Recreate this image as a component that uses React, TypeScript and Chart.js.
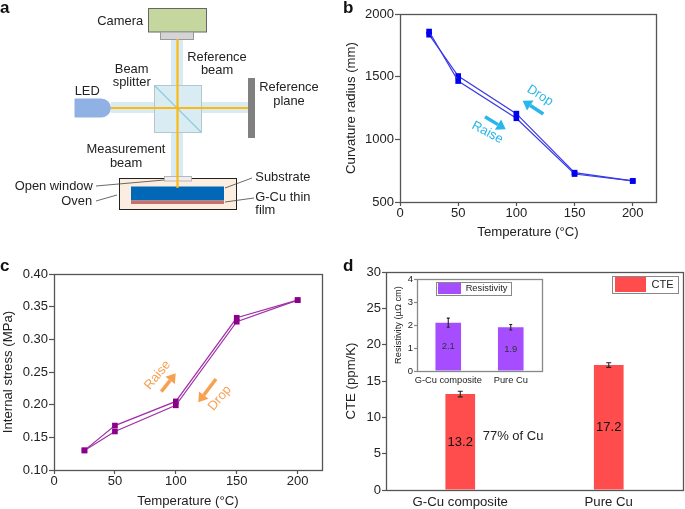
import React, { useEffect, useRef } from "react";
import { Chart, registerables } from "chart.js";

Chart.register(...registerables);

const FONT = '"Liberation Sans", Arial, sans-serif';
const TEXT = "#222222";
const AXIS = "#555555";

const temperatures = [25, 50, 100, 150, 200];
const curvatureRaise = [1860, 1465, 1168, 723, 668];
const curvatureDrop = [1835, 1505, 1205, 734, 668];
const stressRaise = [0.13, 0.159, 0.199, 0.327, 0.36];
const stressDrop = [0.13, 0.168, 0.205, 0.333, 0.36];

const materials = ["G-Cu composite", "Pure Cu"];
const cteValues = [13.2, 17.2];
const cteErrors = [0.38, 0.32];
const resistivityValues = [2.1, 1.9];
const resistivityErrors = [0.2, 0.12];

const framePlugin = {
  id: "frame",
  afterDraw(chart: any, _a: any, o: any) {
    const { left, top, right, bottom } = chart.chartArea;
    const ctx = chart.ctx;
    ctx.save();
    ctx.strokeStyle = o.color || AXIS;
    ctx.lineWidth = 1.3;
    ctx.strokeRect(Math.round(left) + 0.5, Math.round(top) + 0.5, Math.round(right - left), Math.round(bottom - top));
    ctx.restore();
  },
};

const barExtras = {
  id: "barExtras",
  afterDatasetsDraw(chart: any, _a: any, o: any) {
    const ctx = chart.ctx;
    const meta = chart.getDatasetMeta(0);
    const y = chart.scales.y;
    const values = chart.data.datasets[0].data;
    ctx.save();
    meta.data.forEach((bar: any, i: number) => {
      const v = values[i];
      const e = o.errors[i];
      ctx.strokeStyle = "#222";
      ctx.lineWidth = 1.1;
      ctx.beginPath();
      ctx.moveTo(bar.x, y.getPixelForValue(v - e));
      ctx.lineTo(bar.x, y.getPixelForValue(v + e));
      [v - e, v + e].forEach((w) => {
        ctx.moveTo(bar.x - o.cap, y.getPixelForValue(w));
        ctx.lineTo(bar.x + o.cap, y.getPixelForValue(w));
      });
      ctx.stroke();
      ctx.fillStyle = o.labelColor;
      ctx.font = `${o.labelSize}px ${FONT}`;
      ctx.textAlign = "center";
      ctx.textBaseline = "middle";
      ctx.fillText(v.toFixed(1), bar.x, y.getPixelForValue(v / 2));
    });
    ctx.restore();
  },
};

const legendPlacer = {
  id: "legendPlacer",
  afterLayout(chart: any, _a: any, o: any) {
    if (chart.legend) {
      chart.legend.left = o.left;
      chart.legend.top = o.top;
    }
  },
  beforeDatasetsDraw(chart: any, _a: any, o: any) {
    const ctx = chart.ctx;
    ctx.save();
    ctx.strokeStyle = "#888";
    ctx.lineWidth = 1;
    ctx.strokeRect(o.left - o.padL + 0.5, o.top - 1 + 0.5, o.frameW, o.frameH);
    ctx.restore();
  },
};

function axisCommon(size: number, tick: number, pad: number, grid: string) {
  return {
    grid: { display: true, drawOnChartArea: false, drawTicks: tick > 0, tickLength: tick, color: grid, tickWidth: 1.2 },
    border: { display: false },
    ticks: { color: TEXT, font: { family: FONT, size }, padding: pad, maxRotation: 0, minRotation: 0, autoSkip: false },
  };
}

function lineConfig(o: any) {
  const ds = (data: number[]) => ({
    data: data,
    borderColor: o.line,
    backgroundColor: o.marker,
    pointBackgroundColor: o.marker,
    pointBorderWidth: 0,
    pointStyle: "rect",
    pointRadius: 4,
    borderWidth: 1.2,
    tension: 0,
  });
  return {
    type: "line",
    data: { labels: temperatures, datasets: [ds(o.a), ds(o.b)] },
    plugins: [framePlugin],
    options: {
      animation: false,
      responsive: false,
      layout: { padding: o.padding },
      plugins: { legend: { display: false }, tooltip: { enabled: false }, frame: { color: AXIS } },
      scales: {
        x: {
          type: "linear",
          min: 0,
          max: 220,
          ...axisCommon(13, 4, 0, AXIS),
          ticks: { ...axisCommon(13, 4, 0, AXIS).ticks, stepSize: 50, includeBounds: false },
          title: {
            display: true,
            text: "Temperature (°C)",
            color: TEXT,
            font: { family: FONT, size: 13.2 },
            padding: { top: 0, bottom: o.xTitlePad },
          },
          afterFit: (s: any) => { s.height = o.xH; },
        },
        y: {
          min: o.min,
          max: o.max,
          ...axisCommon(13, 5, 1, AXIS),
          ticks: { ...axisCommon(13, 5, 1, AXIS).ticks, stepSize: o.step, callback: o.fmt },
          title: {
            display: true,
            text: o.yTitle,
            color: TEXT,
            font: { family: FONT, size: 13.2 },
            padding: { top: o.yTitlePad, bottom: 0 },
          },
          afterFit: (s: any) => { s.width = o.yW; },
        },
      },
    },
  };
}

function barConfig(o: any) {
  return {
    type: "bar",
    data: {
      labels: materials,
      datasets: [{
        label: o.label,
        data: o.values,
        backgroundColor: o.color,
        borderWidth: 0,
        barPercentage: o.barPct,
        categoryPercentage: 1,
      }],
    },
    plugins: [framePlugin, barExtras, legendPlacer],
    options: {
      animation: false,
      responsive: false,
      layout: { padding: o.padding },
      plugins: {
        tooltip: { enabled: false },
        frame: { color: o.frame },
        barExtras: { errors: o.errors, cap: o.cap, labelColor: o.labelColor, labelSize: o.labelSize },
        legendPlacer: o.legendBox,
        legend: {
          position: "chartArea",
          align: "start",
          labels: {
            boxWidth: o.boxW,
            boxHeight: o.boxH,
            padding: 0,
            color: TEXT,
            font: { family: FONT, size: o.legendSize },
          },
        },
      },
      scales: {
        x: {
          ...axisCommon(o.xSize, 0, o.xPad, o.frame),
          afterFit: (s: any) => { s.height = o.xH; },
        },
        y: {
          min: 0,
          max: o.max,
          ...axisCommon(o.ySize, o.yTick, 1, o.frame),
          ticks: { ...axisCommon(o.ySize, o.yTick, 1, o.frame).ticks, stepSize: o.step },
          title: {
            display: true,
            text: o.yTitle,
            color: TEXT,
            font: { family: FONT, size: o.titleSize },
            padding: { top: o.yTitlePad, bottom: 0 },
          },
          afterFit: (s: any) => { s.width = o.yW; },
        },
      },
    },
  };
}

function ChartBox({ left, top, width, height, config }: any) {
  const ref = useRef<HTMLCanvasElement | null>(null);
  useEffect(() => {
    const chart = new Chart(ref.current as any, config);
    return () => chart.destroy();
  }, []);
  return (
    <canvas
      ref={ref}
      width={width}
      height={height}
      style={{ position: "absolute", left, top, width, height, display: "block" }}
    />
  );
}

const curvatureChart = lineConfig({
  a: curvatureRaise, b: curvatureDrop, line: "#3a3ae8", marker: "#0000ee",
  min: 500, max: 2000, step: 500, yTitle: "Curvature radius (mm)",
  padding: { left: 0, top: 14, right: 29, bottom: 0 }, yW: 60, xH: 38, yTitlePad: 3, xTitlePad: 0,
});

const stressChart = lineConfig({
  a: stressRaise, b: stressDrop, line: "#a030a8", marker: "#8b008b",
  min: 0.1, max: 0.4, step: 0.05, yTitle: "Internal stress (MPa)", fmt: (v: number) => v.toFixed(2),
  padding: { left: 0, top: 24, right: 18, bottom: 0 }, yW: 54, xH: 39, yTitlePad: 0, xTitlePad: 0,
});

const cteChart = barConfig({
  label: "CTE", values: cteValues, errors: cteErrors, color: "#ff4d4d", barPct: 0.2,
  padding: { left: 0, top: 22, right: 2, bottom: 0 }, frame: AXIS, cap: 2.5,
  labelColor: "#111", labelSize: 13, boxW: 31, boxH: 15, legendSize: 11,
  legendBox: { left: 275, top: 27, padL: 3, frameW: 66, frameH: 17 },
  xSize: 13.2, xPad: 4, xH: 19, ySize: 13, yTick: 4, max: 30, step: 5,
  yTitle: "CTE (ppm/K)", titleSize: 13.2, yTitlePad: 3, yW: 46,
});

const resistivityChart = barConfig({
  label: "Resistivity", values: resistivityValues, errors: resistivityErrors, color: "#a64dff", barPct: 0.41,
  padding: { left: 0, top: 9, right: 8, bottom: 0 }, frame: "#888888", cap: 1.5,
  labelColor: "#333", labelSize: 9.5, boxW: 23, boxH: 11, legendSize: 9.3,
  legendBox: { left: 48, top: 13, padL: 2, frameW: 75, frameH: 13 },
  xSize: 9.3, xPad: 4, xH: 19, ySize: 9.5, yTick: 3, max: 4, step: 1,
  yTitle: "Resistivity (µΩ cm)", titleSize: 9.3, yTitlePad: 3, yW: 27,
});

function Arrow({ x1, y1, x2, y2, color }: any) {
  const dx = x2 - x1;
  const dy = y2 - y1;
  const len = Math.hypot(dx, dy);
  const ux = dx / len;
  const uy = dy / len;
  const head = 9;
  const half = 6;
  const bx = x2 - ux * head;
  const by = y2 - uy * head;
  const pts = `${x2},${y2} ${bx - uy * half},${by + ux * half} ${bx + uy * half},${by - ux * half}`;
  return (
    <g>
      <line x1={x1} y1={y1} x2={bx} y2={by} stroke={color} strokeWidth={3.5} />
      <polygon points={pts} fill={color} />
    </g>
  );
}

function Note({ x, y, rot, color, children }: any) {
  return (
    <text x={x} y={y} fill={color} fontSize={13} textAnchor="middle" dominantBaseline="middle" transform={`rotate(${rot} ${x} ${y})`}>
      {children}
    </text>
  );
}

function Schematic() {
  const label = { fill: TEXT, fontSize: 12.9 };
  return (
    <g>
      <rect x={171} y={39} width={12} height={139} fill="#d8eaf2" />
      <rect x={111} y={102} width={137} height={11} fill="#d8eaf2" />
      <rect x={154.5} y={85.5} width={47} height={47} fill="#d9ebf3" stroke="#b5c6cc" />
      <line x1={154.5} y1={85.5} x2={201.5} y2={132.5} stroke="#90cfdc" strokeWidth={1.5} />
      <rect x={148.5} y={8.5} width={58} height={23.5} fill="#c5d69e" stroke="#666" />
      <rect x={160.5} y={32} width={33} height={7.5} fill="#d4d4d4" stroke="#999" />
      <path d="M74.5 98.5 H101 A10 9.5 0 0 1 101 117.5 H74.5 Z" fill="#8fb1e4" />
      <rect x={248} y={78} width={7} height={60} fill="#808080" />
      <rect x={119.5} y={178.5} width={117} height={31} fill="#fbeee1" stroke="#222" />
      <rect x={131} y={186.5} width={93} height={14} fill="#0068b7" />
      <rect x={131} y={200.5} width={93} height={3.5} fill="#c8706a" />
      <rect x={164.5} y={176.5} width={27} height={4.5} fill="#eeeef2" stroke="#aaa" strokeWidth={0.8} />
      <line x1={177.5} y1={39} x2={177.5} y2={188} stroke="#fcb912" strokeWidth={2.2} />
      <line x1={111} y1={108} x2={248} y2={108} stroke="#fcb912" strokeWidth={2.2} />
      <g stroke="#444" strokeWidth={0.8}>
        <line x1={96} y1={186} x2={164} y2={180} />
        <line x1={96} y1={201} x2={117} y2={195} />
        <line x1={252} y1={178} x2={225} y2={188} />
        <line x1={254} y1={198} x2={225} y2={202} />
      </g>
      <g {...label}>
        <text x={97.3} y={25}>Camera</text>
        <text x={217} y={60.5} textAnchor="middle">Reference</text>
        <text x={217} y={74} textAnchor="middle">beam</text>
        <text x={131.7} y={73} textAnchor="middle">Beam</text>
        <text x={131.7} y={86} textAnchor="middle">splitter</text>
        <text x={74.7} y={94.7}>LED</text>
        <text x={289} y={91} textAnchor="middle">Reference</text>
        <text x={289} y={104.7} textAnchor="middle">plane</text>
        <text x={126} y={153.3} textAnchor="middle">Measurement</text>
        <text x={126} y={166.7} textAnchor="middle">beam</text>
        <text x={14.7} y={190.3}>Open window</text>
        <text x={61.3} y={205.3}>Oven</text>
        <text x={255.3} y={181.3}>Substrate</text>
        <text x={255.3} y={201}>G-Cu thin</text>
        <text x={255.3} y={213.7}>film</text>
      </g>
    </g>
  );
}

export default function App() {
  const blue = "#29b6ea";
  const orange = "#f7a050";
  return (
    <div style={{ position: "absolute", left: 0, top: 0, width: 685, height: 509, overflow: "hidden", background: "#fff" }}>
      <ChartBox left={340} top={0} width={345} height={240} config={curvatureChart} />
      <ChartBox left={0} top={250} width={340} height={259} config={stressChart} />
      <ChartBox left={340} top={250} width={345} height={259} config={cteChart} />
      <ChartBox left={390} top={270} width={160} height={120} config={resistivityChart} />
      <svg
        width={685}
        height={509}
        style={{ position: "absolute", left: 0, top: 0, pointerEvents: "none", fontFamily: FONT }}
      >
        <Schematic />
        <g fontWeight="bold" fontSize={17} fill="#111">
          <text x={0} y={13}>a</text>
          <text x={343} y={13}>b</text>
          <text x={0} y={271}>c</text>
          <text x={343} y={271}>d</text>
        </g>
        <Note x={540} y={95.7} rot={32} color={blue}>Drop</Note>
        <Note x={487.3} y={132.7} rot={28} color={blue}>Raise</Note>
        <Arrow x1={543.3} y1={114} x2={522.7} y2={100.7} color={blue} />
        <Arrow x1={485} y1={116.7} x2={505.7} y2={129.3} color={blue} />
        <Note x={157.7} y={375.3} rot={-50} color={orange}>Raise</Note>
        <Note x={220} y={398.3} rot={-50} color={orange}>Drop</Note>
        <Arrow x1={161.3} y1={391.7} x2={175.7} y2={373.3} color={orange} />
        <Arrow x1={216} y1={379} x2={198.3} y2={402.3} color={orange} />
        <text x={482.7} y={440} fontSize={13} fill={TEXT}>77% of Cu</text>
      </svg>
    </div>
  );
}
